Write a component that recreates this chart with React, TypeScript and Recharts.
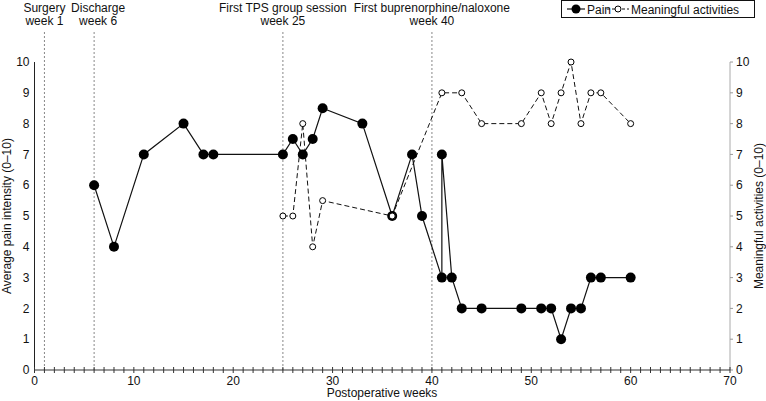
import React from "react";
import { LineChart, Line, XAxis, YAxis, ReferenceLine } from "recharts";

const painWeeks = [6, 8, 11, 15, 17, 18, 25, 26, 27, 28, 29, 33, 36, 38, 39, 41, 41, 42, 43, 45, 49, 51, 52, 53, 54, 55, 56, 57, 60];
const painValues = [6, 4, 7, 8, 7, 7, 7, 7.5, 7, 7.5, 8.5, 8, 5, 7, 5, 3, 7, 3, 2, 2, 2, 2, 2, 1, 2, 2, 3, 3, 3];

const activityWeeks = [25, 26, 27, 28, 29, 36, 41, 43, 45, 49, 51, 52, 53, 54, 55, 56, 57, 60];
const activityValues = [5, 5, 8, 4, 5.5, 5, 9, 9, 8, 8, 9, 8, 9, 10, 8, 9, 9, 8];

const eventWeeks = [1, 6, 25, 40];
const eventLine1 = ["Surgery", "Discharge", "First TPS group session", "First buprenorphine/naloxone"];
const eventLine2 = ["week 1", "week 6", "week 25", "week 40"];
const eventShift = [0, 4, 0, 0];

const xTicks = Array.from({ length: 71 }, (_, i) => i);
const yTicks = [0, 1, 2, 3, 4, 5, 6, 7, 8, 9, 10];

const painData = painWeeks.map((w, i) => ({ week: w, pain: painValues[i] }));
const activityData = activityWeeks.map((w, i) => ({ week: w, act: activityValues[i] }));

const FONT = "'Liberation Sans', Arial, sans-serif";
const TOP_DOMAIN = 11.04;

const XTick = (props: any) => {
  const { x, y, payload } = props;
  const v = payload.value;
  return (
    <g>
      <line x1={x} x2={x} y1={y - 3} y2={y + 3} stroke="#333" strokeWidth={1} />
      {v % 10 === 0 && (
        <text x={x} y={y + 14.5} textAnchor="middle" fontSize={12} fill="#111" fontFamily={FONT}>
          {v}
        </text>
      )}
    </g>
  );
};

const EventLabel = (props: any) => {
  const { viewBox, l1, l2, dx } = props;
  const x = (viewBox?.x ?? 0) + dx;
  const top = viewBox?.y ?? 30;
  return (
    <g fontFamily={FONT} fontSize={12} fill="#111">
      <text x={x} y={top - 18} textAnchor="middle">{l1}</text>
      <text x={x} y={top - 5} textAnchor="middle">{l2}</text>
    </g>
  );
};

const LeftTitle = () => (
  <text x={11} y={216} transform="rotate(-90 11 216)" textAnchor="middle" fontSize={12} fill="#111" fontFamily={FONT}>
    Average pain intensity (0–10)
  </text>
);

const RightTitle = () => (
  <text x={763} y={216} transform="rotate(-90 763 216)" textAnchor="middle" fontSize={12} fill="#111" fontFamily={FONT}>
    Meaningful activities (0–10)
  </text>
);

const BottomTitle = () => (
  <text x={382} y={397} textAnchor="middle" fontSize={12} fill="#111" fontFamily={FONT}>
    Postoperative weeks
  </text>
);

export default function App() {
  return (
    <div style={{ position: "relative", width: 766, height: 401, background: "#fff" }}>
      <style>{"body{margin:0}"}</style>
      <LineChart width={766} height={401} margin={{ top: 30, right: 0, bottom: 0, left: 0 }}>
        <XAxis
          xAxisId="x"
          dataKey="week"
          type="number"
          domain={[0, 70]}
          ticks={xTicks}
          interval={0}
          tick={<XTick />}
          tickLine={false}
          tickSize={0}
          tickMargin={0}
          axisLine={{ stroke: "#333" }}
          height={31}
          allowDuplicatedCategory={true}
          label={<BottomTitle />}
        />
        <YAxis
          yAxisId="left"
          type="number"
          domain={[0, TOP_DOMAIN]}
          ticks={yTicks}
          interval={0}
          width={34.5}
          axisLine={false}
          tickLine={false}
          tickSize={3}
          tickMargin={2}
          tick={{ fontSize: 12, fill: "#111", fontFamily: FONT }}
          label={<LeftTitle />}
        />
        <YAxis
          yAxisId="right"
          orientation="right"
          type="number"
          domain={[0, TOP_DOMAIN]}
          ticks={yTicks}
          interval={0}
          width={36}
          axisLine={false}
          tickLine={{ stroke: "#999" }}
          tickSize={3}
          tickMargin={3}
          tick={{ fontSize: 12, fill: "#111", fontFamily: FONT }}
          label={<RightTitle />}
        />
        <ReferenceLine
          xAxisId="x"
          yAxisId="left"
          segment={[{ x: 0, y: 0 }, { x: 0, y: 10 }]}
          stroke="#222"
          strokeWidth={1}
        />
        <ReferenceLine
          xAxisId="x"
          yAxisId="left"
          segment={[{ x: 70, y: 0 }, { x: 70, y: 10 }]}
          stroke="#aaa"
          strokeWidth={1}
        />
        {eventWeeks.map((w, i) => (
          <ReferenceLine
            key={w}
            xAxisId="x"
            yAxisId="left"
            x={w}
            stroke="#888"
            strokeWidth={1}
            strokeDasharray="2 2"
            label={<EventLabel l1={eventLine1[i]} l2={eventLine2[i]} dx={eventShift[i]} />}
          />
        ))}
        <Line
          xAxisId="x"
          yAxisId="left"
          data={painData}
          dataKey="pain"
          stroke="#111"
          strokeWidth={1.2}
          dot={{ r: 5, fill: "#000", stroke: "#000", strokeWidth: 0 }}
          activeDot={false}
          isAnimationActive={false}
        />
        <Line
          xAxisId="x"
          yAxisId="right"
          data={activityData}
          dataKey="act"
          stroke="#111"
          strokeWidth={1}
          strokeDasharray="5 3"
          dot={{ r: 3, fill: "#fff", stroke: "#000", strokeWidth: 1, strokeDasharray: "" }}
          activeDot={false}
          isAnimationActive={false}
        />
      </LineChart>
      <svg
        width={766}
        height={22}
        style={{ position: "absolute", left: 0, top: 0, pointerEvents: "none" }}
        fontFamily={FONT}
      >
        <rect x={561.5} y={0.5} width={193} height={17} fill="#fff" stroke="#111" strokeWidth={1} />
        <line x1={567} x2={585} y1={9} y2={9} stroke="#111" strokeWidth={1.2} />
        <circle cx={576} cy={9} r={4.5} fill="#000" />
        <text x={587} y={13.5} fontSize={12} fill="#111">Pain</text>
        <line x1={607} x2={629} y1={9} y2={9} stroke="#111" strokeWidth={1} strokeDasharray="3 2" />
        <circle cx={618} cy={9} r={3} fill="#fff" stroke="#000" strokeWidth={1} />
        <text x={631} y={13.5} fontSize={12} fill="#111">Meaningful activities</text>
      </svg>
    </div>
  );
}
